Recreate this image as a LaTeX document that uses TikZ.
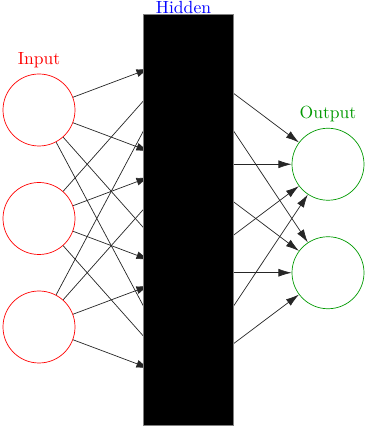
\documentclass[tikz,border=0pt]{standalone}
\usepackage{tikz}
\usetikzlibrary{arrows.meta, positioning}
\begin{document}
\begin{tikzpicture}[
    neuron/.style={draw, circle, minimum size=1.44cm, inner sep=0pt},
    arr/.style={-{Latex[length=7.5pt, width=4.5pt]}, draw=black!85}
  ]
  \useasboundingbox (0,0) rectangle (7.44,8.52);
  % Input layer
  \foreach \i/\y in {1/6.32, 2/4.15, 3/1.98} {
    \node[neuron, red] (in\i) at (0.78, \y) {};
  }
  \node[above, red] at (in1.north) {Input};
  % Hidden layer
  \foreach \j/\y in {1/7.405, 2/5.235, 3/3.065, 4/0.895} {
    \node[neuron] (hid\j) at (3.67, \y) {};
  }
  % Output layer
  \foreach \k/\y in {1/5.235, 2/3.065} {
    \node[neuron, green!60!black] (out\k) at (6.56, \y) {};
  }
  \node[above, green!60!black] at (out1.north) {Output};
  % Connections
  \foreach \i in {1,2,3}
    \foreach \j in {1,...,4}
      \draw[arr] (in\i) -- (hid\j);
  \foreach \j in {1,...,4}
    \foreach \k in {1,2}
      \draw[arr] (hid\j) -- (out\k);
  % Hidden block
  \node[fill=black, draw=gray, minimum width=1.8cm, minimum height=8.22cm,
        inner sep=0pt, anchor=south] (block) at (3.76, 0) {};
  \node[anchor=base, blue] at ([yshift=0.5pt]hid1 |- block.north) {Hidden};
\end{tikzpicture}
\end{document}
